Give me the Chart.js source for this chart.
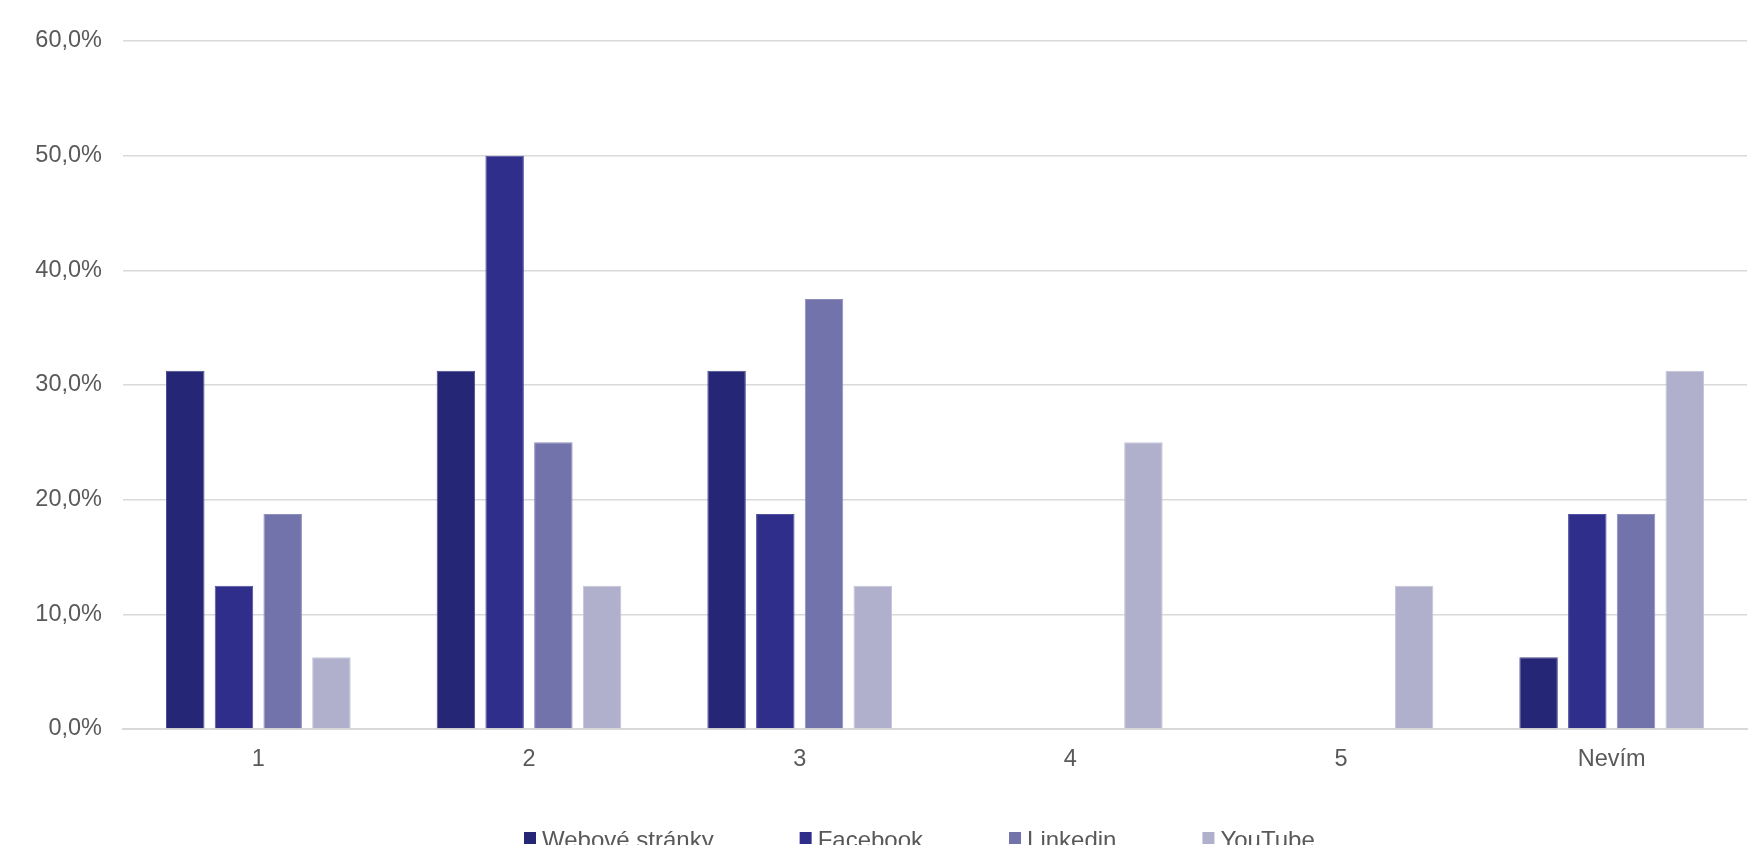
<!DOCTYPE html>
<html>
<head>
<meta charset="utf-8">
<title>Hodnocení kanálů</title>
<script src="https://cdn.jsdelivr.net/npm/chart.js@4/dist/chart.umd.min.js"></script>
<style>
  html, body { margin: 0; padding: 0; background: #fff; overflow: hidden; }
  #wrap { width: 1758px; height: 845px; }
</style>
</head>
<body>
<div id="wrap"><canvas id="chart"></canvas></div>
<script>
const categories = ["1", "2", "3", "4", "5", "Nevím"];
const seriesNames = ["Webové stránky", "Facebook", "Linkedin", "YouTube"];
const webove = [31.25, 31.25, 31.25, 0, 0, 6.25];
const facebook = [12.5, 50, 18.75, 0, 0, 18.75];
const linkedin = [18.75, 25, 37.5, 0, 0, 18.75];
const youtube = [6.25, 12.5, 12.5, 25, 12.5, 31.25];
const yTicks = [0, 10, 20, 30, 40, 50, 60];

const fills = ["#262676", "#2f2f8b", "#7373ab", "#b0b0cc"];
const edges = ["#4a4a8e", "#5050a0", "#8e8ebd", "#c4c4da"];
const FONT = "'Liberation Sans', Arial, sans-serif";

// legend drawn in a single row under the axis
const bottomLegend = {
  id: "bottomLegend",
  afterDraw(chart) {
    const ctx = chart.ctx;
    ctx.save();
    ctx.font = "24px " + FONT;
    ctx.textBaseline = "alphabetic";
    let x = 524;
    chart.data.datasets.forEach(ds => {
      ctx.fillStyle = ds.backgroundColor;
      ctx.fillRect(x, 832, 12, 12);
      ctx.fillStyle = "#595959";
      ctx.fillText(ds.label, x + 18, 848);
      x += 18 + ctx.measureText(ds.label).width + 86;
    });
    ctx.restore();
  }
};

const values = [webove, facebook, linkedin, youtube];

new Chart(document.getElementById("chart"), {
  type: "bar",
  data: {
    labels: categories,
    datasets: seriesNames.map((name, i) => ({
      label: name,
      data: values[i],
      backgroundColor: fills[i],
      borderColor: edges[i],
      borderWidth: 1,
      categoryPercentage: 0.72,
      barPercentage: 0.79
    }))
  },
  options: {
    responsive: true,
    maintainAspectRatio: false,
    animation: false,
    layout: { padding: { top: 41, right: 11, left: 0, bottom: 0 } },
    plugins: {
      legend: { display: false },
      tooltip: { enabled: false }
    },
    scales: {
      x: {
        grid: { display: false, drawTicks: false },
        border: { color: "#d9d9d9", width: 2 },
        ticks: { color: "#595959", font: { family: FONT, size: 23.5 }, padding: 16 },
        afterFit(scale) { scale.height = 116; }
      },
      y: {
        min: 0,
        max: 60,
        afterBuildTicks(scale) { scale.ticks = yTicks.map(v => ({ value: v })); },
        grid: { color: "#d9d9d9", lineWidth: 1.5, drawTicks: false },
        border: { display: false },
        ticks: {
          color: "#595959",
          font: { family: FONT, size: 23.5 },
          padding: 21,
          callback: v => v.toFixed(1).replace(".", ",") + "%"
        },
        afterFit(scale) { scale.width = 123; }
      }
    }
  },
  plugins: [bottomLegend]
});
</script>
</body>
</html>
